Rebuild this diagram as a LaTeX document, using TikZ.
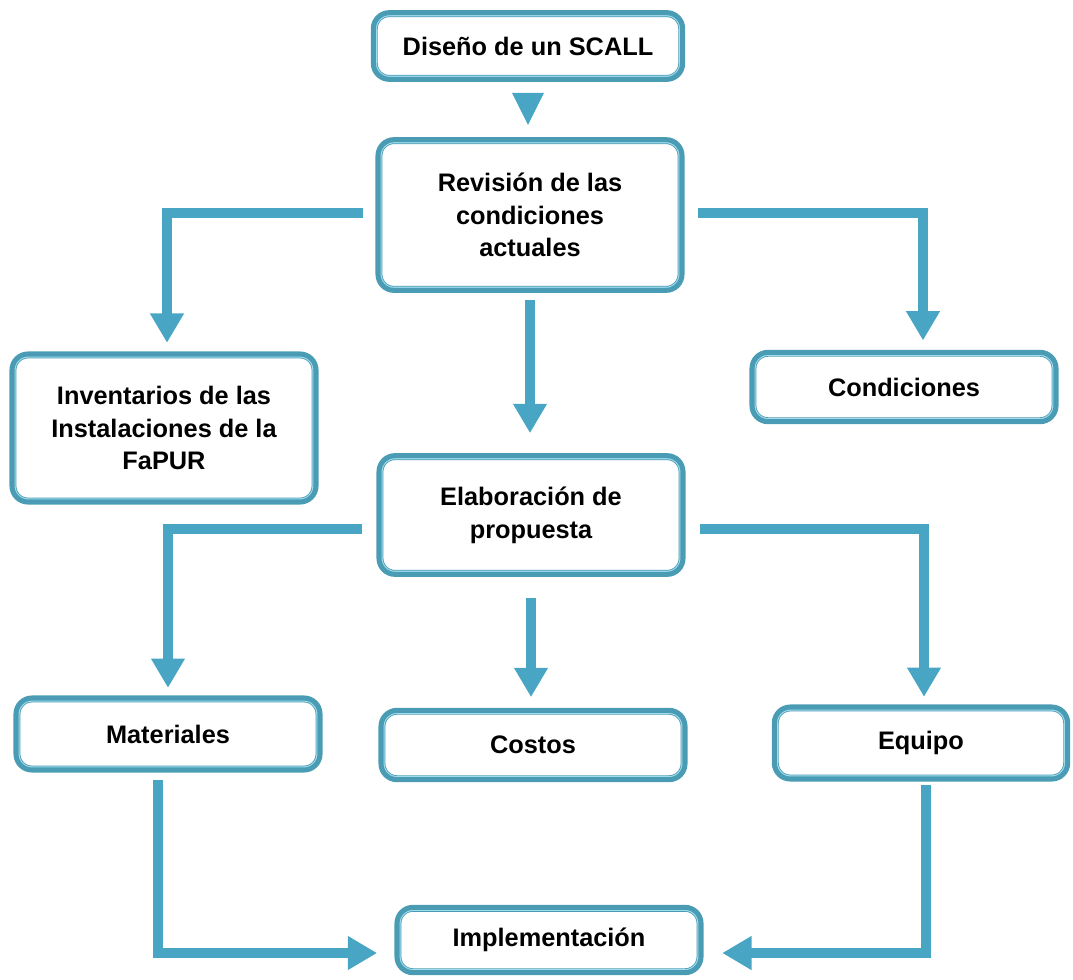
\documentclass[tikz,border=0pt]{standalone}
\usepackage{fontspec}
\setmainfont{Liberation Sans}
\usetikzlibrary{arrows.meta,calc}

\definecolor{boxteal}{RGB}{74,156,181}
\definecolor{boxcyan}{RGB}{160,220,238}
\definecolor{flowblue}{RGB}{72,166,196}

\tikzset{every picture/.style={line width=0.75pt}}
\tikzset{
  stagebox/.style={draw=boxteal, line width=3.8pt, fill=white, rounded corners=12pt,
    align=center, inner sep=0pt, minimum width=228pt,
    font=\bfseries\fontsize{19}{24.5}\selectfont,
    path picture={
      \draw[boxteal, line width=6.6pt, rounded corners=12pt] (path picture bounding box.south west) rectangle (path picture bounding box.north east);
      \draw[boxcyan, line width=5.4pt, rounded corners=12pt] (path picture bounding box.south west) rectangle (path picture bounding box.north east);
    }},
  flow/.style={draw=flowblue, line width=7.5pt, -{Triangle[length=22pt,width=24pt]}},
}

\begin{document}
\begin{tikzpicture}[x=0.75pt,y=0.75pt,yscale=-1,xscale=1]
\useasboundingbox (0,0) rectangle (1073,979);

%Shape: Boxes
\node[stagebox, minimum width=232pt, minimum height=50pt] (disenio) at (528,46) {Diseño de un SCALL};
\node[stagebox, minimum height=113pt] (revision) at (530,215) {Revisión de las\\condiciones\\actuales};
\node[stagebox, minimum height=111pt] (inventario) at (164,428) {Inventarios de las\\Instalaciones de la\\FaPUR};
\node[stagebox, minimum height=52pt] (condiciones) at (904,387) {Condiciones};
\node[stagebox, minimum height=89pt] (propuesta) at (531,515) {Elaboración de\\propuesta};
\node[stagebox, minimum height=54pt] (materiales) at (168,734) {Materiales};
\node[stagebox, minimum height=52pt] (costos) at (533,745) {Costos};
\node[stagebox, minimum width=220pt, minimum height=54pt] (equipo) at (921,743) {Equipo};
\node[stagebox, minimum height=49pt] (implementacion) at (549,940) {Implementación};

%Arrow head below the first box
\fill[flowblue] ($(disenio.south)+(-16,11)$) -- ++(32,0) -- ++(-16,32) -- cycle;

%Straight Lines
\draw[flow, shorten <=9pt, shorten >=6.5pt] ($(revision.west)+(0,-2)$) -| ($(inventario.north)+(3,0)$);
\draw[flow, shorten <=10pt, shorten >=7pt] ($(revision.east)+(0,-2)$) -| ($(condiciones.north)+(19,0)$);
\draw[flow, shorten <=5.5pt, shorten >=15pt] (revision.south) -- (revision.south |- propuesta.north);

\draw[flow, shorten <=10.5pt, shorten >=5.7pt] ($(propuesta.west)+(0,14)$) -| (materiales.north);
\draw[flow, shorten <=11pt, shorten >=5.7pt] ($(propuesta.east)+(0,14)$) -| ($(equipo.north)+(3,0)$);
\draw[flow, shorten <=16pt, shorten >=8pt] (propuesta.south) -- (propuesta.south |- costos.north);

\draw[flow, shorten <=5.7pt, shorten >=13pt] ($(materiales.south)+(-10,0)$) |- ($(implementacion.west)+(0,13)$);
\draw[flow, shorten <=2.7pt, shorten >=14pt] ($(equipo.south)+(5,0)$) |- ($(implementacion.east)+(0,13)$);

\end{tikzpicture}
\end{document}
